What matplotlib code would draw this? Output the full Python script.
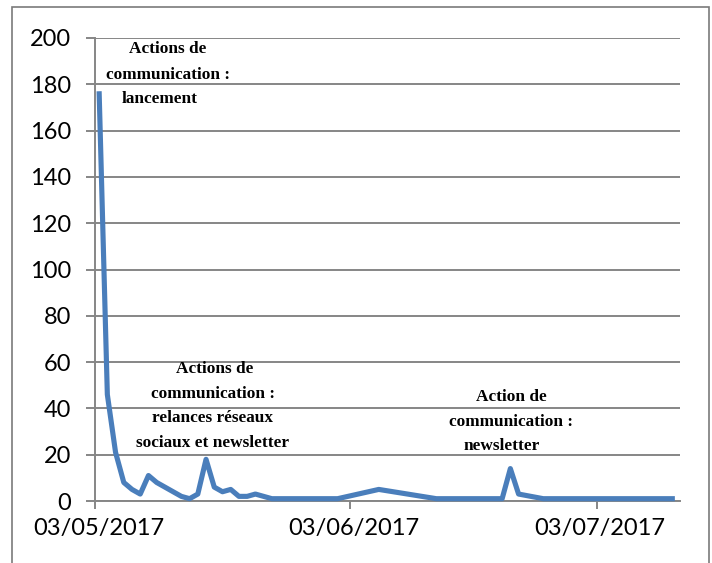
import matplotlib
matplotlib.use("Agg")
import matplotlib.pyplot as plt
import matplotlib.dates as mdates
import matplotlib.transforms as mtransforms
from matplotlib.patches import Rectangle
from datetime import datetime, timedelta

# ---- data ----
start = datetime(2017, 5, 3)
day_offsets = [0, 1, 2, 3, 4, 5, 6, 7, 8, 9, 10, 11, 12, 13, 14, 15, 16, 17, 18, 19,
               21, 29, 34, 41, 49, 50, 51, 54, 70]
values = [177, 46, 21, 8, 5, 3, 11, 8, 6, 4, 2, 1, 3, 18, 6, 4, 5, 2, 2, 3,
          1, 1, 5, 1, 1, 14, 3, 1, 1]
x_tick_labels = ["03/05/2017", "03/06/2017", "03/07/2017"]
y_ticks = [0, 20, 40, 60, 80, 100, 120, 140, 160, 180, 200]

annot1 = ["Actions de", "communication :", "lancement"]
annot2 = ["Actions de", "communication :", "relances réseaux", "sociaux et newsletter"]
annot3 = ["Action de", "communication :", "newsletter"]

dates = [start + timedelta(days=d, hours=12) for d in day_offsets]
tick_dates = [datetime(2017, 5, 3), datetime(2017, 6, 3), datetime(2017, 7, 3)]

W, H = 712, 563
fig = plt.figure(figsize=(W / 100, H / 100), dpi=100)
fig.patch.set_facecolor("white")

ax = fig.add_axes([95 / W, (H - 501) / H, (680 - 95) / W, (501 - 38) / H])
grey = "#868686"

ax.plot(dates, values, color="#4a7ebb", lw=3.7, solid_joinstyle="round",
        solid_capstyle="butt", zorder=3, clip_on=False)

ax.set_xlim(datetime(2017, 5, 3), datetime(2017, 7, 13, 3))
ax.set_ylim(0, 200)
ax.set_yticks(y_ticks)
ax.set_xticks(tick_dates)
ax.set_xticklabels(x_tick_labels)

ax.grid(axis="y", color=grey, lw=1.4)
ax.set_axisbelow(True)
for s in ["top", "right"]:
    ax.spines[s].set_visible(False)
for s in ["left", "bottom"]:
    ax.spines[s].set_color(grey)
    ax.spines[s].set_linewidth(1.4)

ax.tick_params(axis="y", direction="out", length=6.5, width=1.4, color=grey,
               pad=10.5, labelsize=17)
ax.tick_params(axis="x", direction="out", length=6, width=1.4, color=grey,
               pad=6.5, labelsize=17)
for lab in ax.get_xticklabels() + ax.get_yticklabels():
    lab.set_family(["Lato", "DejaVu Sans"])
offset = mtransforms.ScaledTranslation(3.5 / 100, 0, fig.dpi_scale_trans)
for lab in ax.get_xticklabels():
    lab.set_transform(lab.get_transform() + offset)

serif = ["Liberation Serif", "DejaVu Serif"]

def put(lines, xs, ys):
    for t, x, y in zip(lines, xs, ys):
        fig.text(x / W, 1 - y / H, t, ha="center", va="center", fontsize=12.4,
                 fontweight="bold", family=serif)

put(annot1, [168, 167.5, 159.5], [49, 75, 99])
put(annot2, [214.8, 212.8, 212.6, 212.5], [369, 394, 418, 443])
put(annot3, [511.4, 511.4, 501.5], [397, 422, 446])

fig.add_artist(Rectangle((12 / W, -0.05), (709 - 12) / W, 1.05 - 7 / H,
                         transform=fig.transFigure, fill=False,
                         edgecolor="#7a7a7a", lw=1.2))

fig.savefig("out.png", dpi=100)
